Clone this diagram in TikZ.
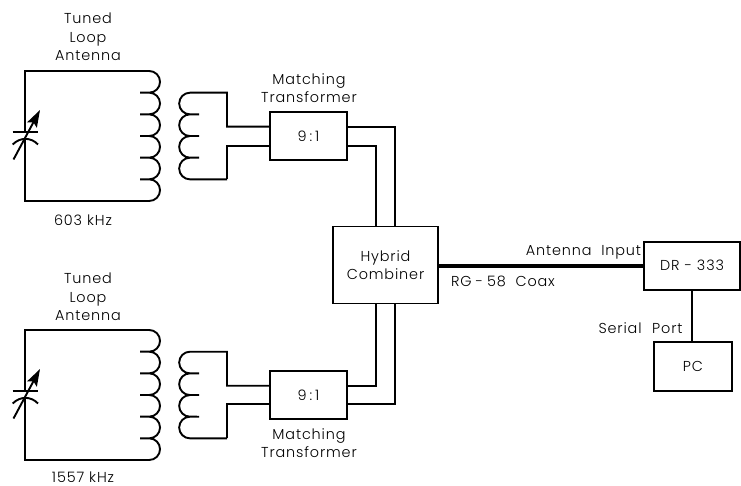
\documentclass[tikz,border=0pt]{standalone}
\usepackage{fontspec}
\setmainfont[LetterSpace=6]{Poppins Light}
\usetikzlibrary{arrows.meta}
\tikzset{
  x=1pt,y=-1pt,
  wire/.style={line width=1.9pt,line join=miter,line cap=butt},
  coax/.style={line width=4.2pt},
  blockbox/.style={draw,line width=1.9pt,inner sep=0pt,fill=white,align=center,font=\fontsize{14.4}{18}\selectfont},
  lbl/.style={inner sep=0pt,align=center,font=\fontsize{14.4}{18.5}\selectfont},
}
% primary: #1 top y of 6-turn coil
\newcommand{\primloop}[1]{%
  \begin{scope}[shift={(0,#1)}]
    \coordinate (plateT) at (25,60.7);
    \coordinate (plateB) at (25,67);
    \draw[wire] (plateT) -- (25,0) -- (149.2,0)
      arc[start angle=90,end angle=-90,radius=10.83pt] -- (140,21.67)
      (149.2,21.67) arc[start angle=90,end angle=-90,radius=10.83pt] -- (140,43.33)
      (149.2,43.33) arc[start angle=90,end angle=-90,radius=10.83pt] -- (140,65)
      (149.2,65) arc[start angle=90,end angle=-90,radius=10.83pt] -- (140,86.67)
      (149.2,86.67) arc[start angle=90,end angle=-90,radius=10.83pt] -- (140,108.33)
      (149.2,108.33) arc[start angle=90,end angle=-90,radius=10.83pt] -- (25,130) -- (plateB);
    \draw[wire] (12.7,60.7) -- (38,60.7);
    \draw[wire] (12.7,73.5) .. controls (20,66) and (31,66) .. (38,73.5);
    \draw[wire,-{Stealth[length=17pt,width=11pt,inset=3pt]}] (13.5,88.5) -- (40,39);
  \end{scope}}
% secondary: #1 y of the top of the 4-turn coil, #2 top lead y, #3 lower lead y, #4 box name
\newcommand{\secloop}[4]{%
  \begin{scope}[shift={(0,#1)}]
    \coordinate (st) at (227,0);
    \coordinate (sb) at (227,86.67);
    \draw[wire] (#4.west |- 0,#2) -| (st) -- (190,0)
      arc[start angle=90,end angle=270,radius=10.83pt] -- (199,21.67)
      (190,21.67) arc[start angle=90,end angle=270,radius=10.83pt] -- (199,43.33)
      (190,43.33) arc[start angle=90,end angle=270,radius=10.83pt] -- (199,65)
      (190,65) arc[start angle=90,end angle=270,radius=10.83pt] -- (sb);
    \draw[wire] (#4.west |- 0,#3) -| (sb);
  \end{scope}}
\begin{document}
\begin{tikzpicture}
\useasboundingbox (0,0) rectangle (741,486);

\node[blockbox,minimum width=77pt,minimum height=48pt] (tx1) at (308.5,136) {9\hspace{3pt}:\hspace{3pt}1};
\node[blockbox,minimum width=77pt,minimum height=48pt] (tx2) at (308.5,395) {9\hspace{3pt}:\hspace{3pt}1};
\node[blockbox,minimum width=105.5pt,minimum height=77pt] (hyb) at (385.5,265) {Hybrid\\Combiner};
\node[blockbox,minimum width=96pt,minimum height=48pt] (dr) at (692,265.7) {DR\hspace{5pt}-\hspace{5pt}333};
\node[blockbox,minimum width=78pt,minimum height=48.5pt] (pc) at (693,366.5) {PC};

\primloop{71}
\primloop{330}
\secloop{92.7}{34}{53}{tx1}
\secloop{351.7}{34}{52.6}{tx2}

% transformer to combiner
\draw[wire] (tx1.east |- 0,126.7) -| (hyb.north -| 395,0);
\draw[wire] (tx1.east |- 0,145.7) -| (hyb.north -| 376,0);
\draw[wire] (tx2.east |- 0,385.7) -| (hyb.south -| 376,0);
\draw[wire] (tx2.east |- 0,404.3) -| (hyb.south -| 395,0);
\draw[coax] (hyb.east |- dr.west) -- (dr.west);
\draw[wire] (dr.south -| 692,0) -- (pc.north -| 692,0);

\node[lbl] (t1) at (88,37) {Tuned\\Loop\\Antenna};
\node[lbl] (t2) at (88,297) {Tuned\\Loop\\Antenna};
\node[lbl] (f1) at (83,220) {603\hspace{5pt}kHz};
\node[lbl] (f2) at (83,477) {1557\hspace{5pt}kHz};
\node[lbl] (m1) at (309,88) {Matching\\Transformer};
\node[lbl] (m2) at (309,443) {Matching\\Transformer};
\node[lbl] (ai) at (583.5,252) {Antenna\ \ Input};
\node[lbl] (rg) at (503,281) {RG\hspace{4pt}-\hspace{4pt}58\ \ Coax};
\node[lbl] (sp) at (640.5,328) {Serial\ \ \hspace{1pt}Port};
\end{tikzpicture}
\end{document}
